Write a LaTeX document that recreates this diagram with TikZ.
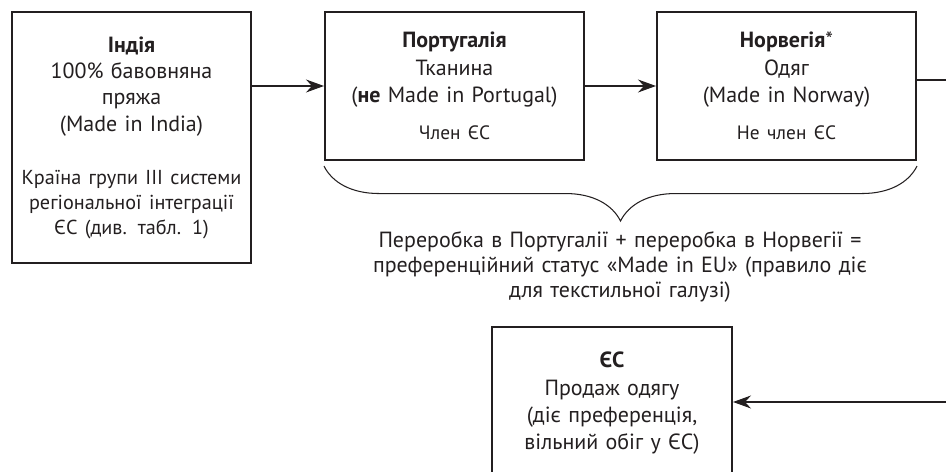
\documentclass[tikz,border=0pt]{standalone}
\usepackage{fontspec}
\setmainfont{PT Sans}
\usetikzlibrary{arrows.meta, decorations.pathreplacing}
\definecolor{ink}{HTML}{231F20}
\newcommand{\smalltxt}{\fontsize{11}{14}\selectfont}
\tikzset{
  stagebox/.style={draw=ink, text=ink, line width=1.2pt, align=center, inner sep=0pt,
    font=\fontsize{12.5}{15.6}\selectfont},
  flowarrow/.style={draw=ink, line width=0.6pt, -{Stealth[length=3.6mm, width=2.6mm, inset=1.2mm]}},
}

\begin{document}
\begin{tikzpicture}[x=0.02cm, y=-0.02cm]
		\clip (0,0) rectangle (946,472);
		%%%%%%%%%%%%%
		\node[stagebox, minimum width=4.78cm, minimum height=5.02cm, text width=4.6cm,
		  font=\fontsize{12.5}{15}\selectfont] (india) at (131.5,137.5)
		  {{\bfseries Індія}\\ 100\% бавовняна\\ пряжа\\ (Made in India)\par
		   \vspace{16pt}{\fontsize{11.5}{14.2}\selectfont Країна групи III системи\\ регіональної інтеграції\\ ЄС (див. табл. 1)\par}};
		\node[stagebox, minimum width=5.18cm, minimum height=2.96cm, text width=5cm] (port) at (454.5,86)
		  {{\bfseries Португалія}\\ Тканина\\ ({\bfseries не} Made in Portugal)\par
		   \vspace{7pt}\smalltxt Член ЄС\par};
		\node[stagebox, minimum width=5.18cm, minimum height=2.96cm, text width=5cm] (nor) at (786.5,86)
		  {{\bfseries Норвегія}*\\ Одяг\\ (Made in Norway)\par
		   \vspace{7pt}\smalltxt Не член ЄС\par};
		\node[stagebox, anchor=north, minimum width=4.8cm, text width=4.6cm, inner ysep=0.5cm] (eu) at (612,326)
		  {{\bfseries ЄС}\\ Продаж одягу\\ (діє преференція,\\ вільний обіг у ЄС)\par
		   \rule{0pt}{2cm}\par};
		\node[text=ink, align=center, text width=10.6cm, inner sep=0pt,
		  font=\fontsize{12.5}{14.3}\selectfont] (note) at (620,267)
		  {Переробка в Португалії + переробка в Норвегії =\\
		   преференційний статус «Made in EU» (правило діє\\
		   для текстильної галузі)};
		%%%%%%%%%%%%%
		\coordinate (outtop) at (946,80);
		\coordinate (inbot) at (946,402);
		\draw[flowarrow] (india.east |- port.west) -- (port.west);
		\draw[flowarrow] (port.east) -- (nor.west);
		\draw[draw=ink, line width=0.6pt] (nor.east |- outtop) -- (outtop);
		\draw[flowarrow] (inbot) -- (eu.east |- inbot);
		\draw[draw=ink, line width=0.6pt, decorate, decoration={brace, mirror, amplitude=1.1cm}]
		  ([yshift=-0.1cm]port.south west) -- ([yshift=-0.1cm]nor.south east);
\end{tikzpicture}
\end{document}
